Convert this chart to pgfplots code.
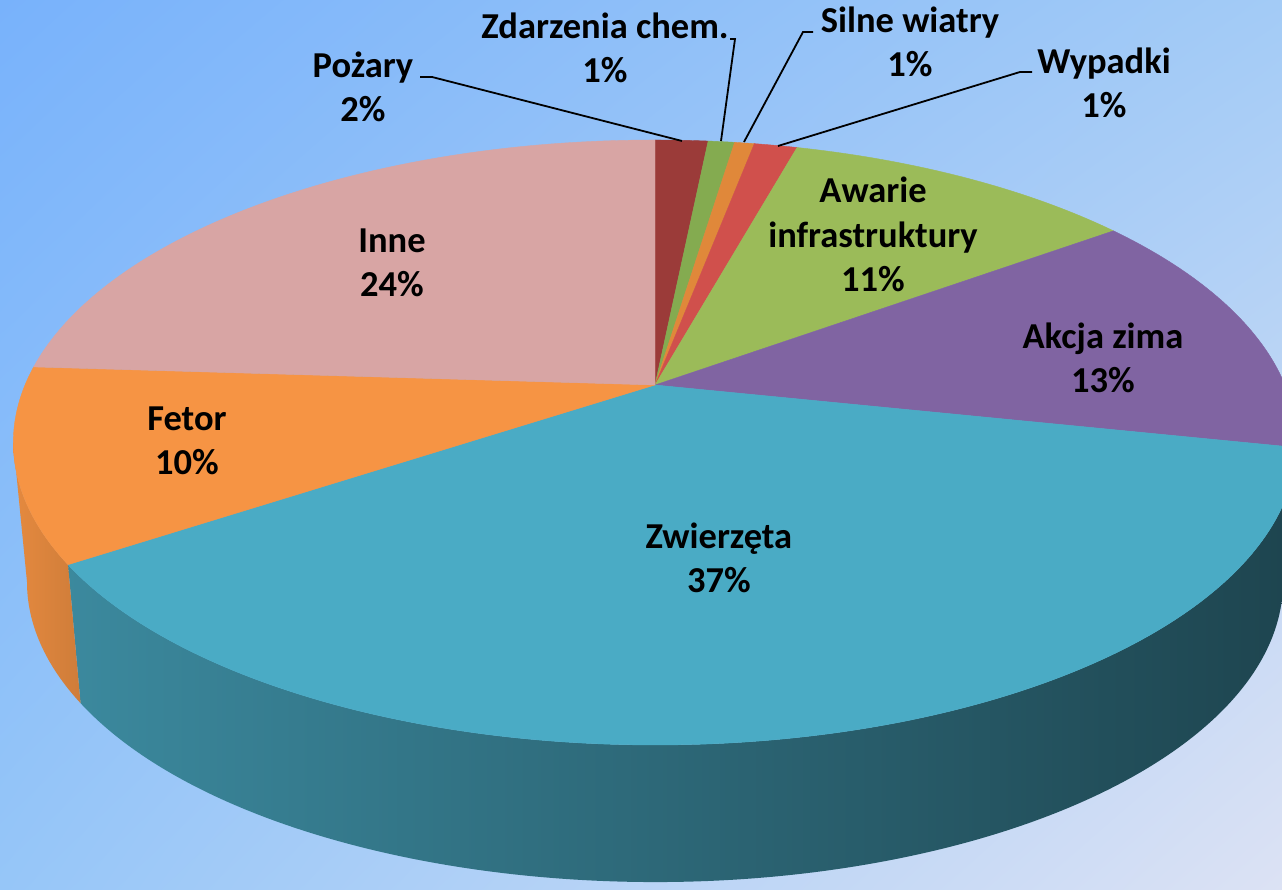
\documentclass[border=0pt]{standalone}
\usepackage{fontspec}
\setmainfont{Carlito}
\usepackage{pgfplots}
\usepackage{pgfplotstable}
\pgfplotsset{compat=1.18}
\usetikzlibrary{shadings}

\definecolor{cPoz}{HTML}{9B3B39}
\definecolor{cZda}{HTML}{84AB50}
\definecolor{cSil}{HTML}{E0883A}
\definecolor{cWyp}{HTML}{D0504C}
\definecolor{cAwa}{HTML}{9BBB59}
\definecolor{cAkc}{HTML}{8064A2}
\definecolor{cZwi}{HTML}{4AABC5}
\definecolor{cFet}{HTML}{F69444}
\definecolor{cInn}{HTML}{D8A5A4}
\definecolor{bgUL}{HTML}{78B2FB}
\definecolor{bgUR}{HTML}{A3CBF6}
\definecolor{bgLL}{HTML}{96C6F8}
\definecolor{bgLR}{HTML}{DCE2F4}

% share in percent, clockwise from 12 o'clock
% sl/sr: how much of the colour is kept on the side (left/right)
% lx, ly: baseline of the last label line (y upwards)
\pgfplotstableread{
name                     value colour sl  sr  lx    ly
Pożary                   1.6   cPoz   70  50  363   768
{Zdarzenia chem.}        0.8   cZda   70  50  605   807
{Silne wiatry}           0.6   cSil   70  50  910   813
Wypadki                  1.3   cWyp   70  50  1104  772
{Awarie\\infrastruktury} 10.7  cAwa   70  50  873   598
{Akcja zima}             13.3  cAkc   60  45  1103  497
Zwierzęta                37.4  cZwi   80  40  719   297
Fetor                    10.3  cFet   93  84  187   415
Inne                     24.0  cInn   70  50  392   593
}\piedata

% perspective pie: apex, top ellipse, bottom ellipse
\def\cx{655}\def\ay{505}
\def\ey{447.5}\def\rx{641.7}\def\ry{302.5}
\def\by{308}\def\brx{628}\def\bry{300}
\def\kk{0.19}

\def\setg#1#2{\expandafter\xdef\csname#1\endcsname{#2}}
\def\getg#1{\csname#1\endcsname}

\begin{document}
\begin{tikzpicture}
\pgfplotstablegetrowsof{\piedata}
\pgfmathtruncatemacro\N{\pgfplotsretval-1}
\def\cum{0}
\pgfplotsforeachungrouped \ii in {0,...,\N}{%
  \pgfplotstablegetelem{\ii}{value}\of\piedata \let\vv\pgfplotsretval
  \pgfplotstablegetelem{\ii}{sl}\of\piedata \let\sidL\pgfplotsretval
  \pgfplotstablegetelem{\ii}{sr}\of\piedata \let\sidR\pgfplotsretval
  \pgfplotstablegetelem{\ii}{colour}\of\piedata
  \colorlet{top\ii}{\pgfplotsretval}
  \colorlet{sideL\ii}{\pgfplotsretval!\sidL!black}
  \colorlet{sideR\ii}{\pgfplotsretval!\sidR!black}
  \pgfplotstablegetelem{\ii}{name}\of\piedata
  \global\expandafter\let\csname nm\ii\endcsname\pgfplotsretval
  \pgfplotstablegetelem{\ii}{lx}\of\piedata \setg{lx\ii}{\pgfplotsretval}
  \pgfplotstablegetelem{\ii}{ly}\of\piedata \setg{ly\ii}{\pgfplotsretval}
  \pgfmathtruncatemacro\pc{round(\vv)}\setg{pc\ii}{\pc}
  % pie angles -> ellipse parameter
  \pgfmathsetmacro\pa{3.6*\cum}
  \pgfmathsetmacro\cum{\cum+\vv}
  \pgfmathsetmacro\pb{3.6*\cum}
  \pgfmathsetmacro\ta{atan2(cos(\pa)+\kk,0.9818*sin(\pa))}
  \pgfmathsetmacro\tb{atan2(cos(\pb)+\kk,0.9818*sin(\pb))}
  \pgfmathsetmacro\tb{\tb>\ta ? \tb-360 : \tb}
  \setg{ta\ii}{\ta}\setg{tb\ii}{\tb}
  \pgfmathsetmacro\tmp{\cx+\rx*cos(\ta)}\setg{tx\ii}{\tmp}
  \pgfmathsetmacro\tmp{\ey+\ry*sin(\ta)}\setg{ty\ii}{\tmp}
  % visible part of the side
  \pgfmathsetmacro\sa{min(\ta,0)}
  \pgfmathsetmacro\sb{max(\tb,-180)}
  \pgfmathtruncatemacro\vis{\sa>\sb+0.01 ? 1 : 0}
  \setg{vis\ii}{\vis}\setg{sa\ii}{\sa}\setg{sb\ii}{\sb}
  \pgfmathsetmacro\tmp{\cx+\rx*cos(\sa)}\setg{sax\ii}{\tmp}
  \pgfmathsetmacro\tmp{\ey+\ry*sin(\sa)}\setg{say\ii}{\tmp}
  \pgfmathsetmacro\tmp{\cx+\brx*cos(\sb)}\setg{sbx\ii}{\tmp}
  \pgfmathsetmacro\tmp{\by+\bry*sin(\sb)}\setg{sby\ii}{\tmp}
}
\begin{axis}[
  hide axis, scale only axis,
  x=1pt, y=1pt,
  xmin=0, xmax=1282, ymin=0, ymax=890,
]
\shade[upper left=bgUL, upper right=bgUR, lower left=bgLL, lower right=bgLR]
  (axis cs:0,0) rectangle (axis cs:1282,890);
% sides
\pgfplotsinvokeforeach{0,...,\N}{%
  \ifnum\getg{vis#1}=1
  \shade[left color=sideL#1, right color=sideR#1]
    (axis cs:\getg{sax#1},\getg{say#1})
    arc[start angle=\getg{sa#1}, end angle=\getg{sb#1}, x radius=\rx, y radius=\ry]
    -- (axis cs:\getg{sbx#1},\getg{sby#1})
    arc[start angle=\getg{sb#1}, end angle=\getg{sa#1}, x radius=\brx, y radius=\bry]
    -- cycle;
  \fi
}
% top face
\pgfplotsinvokeforeach{0,...,\N}{%
  \filldraw[top#1, line width=0.4pt] (axis cs:\cx,\ay)
    -- (axis cs:\getg{tx#1},\getg{ty#1})
    arc[start angle=\getg{ta#1}, end angle=\getg{tb#1}, x radius=\rx, y radius=\ry]
    -- cycle;
}
% leader lines
\addplot[black, line width=1.8pt, no marks] coordinates {(420,813) (432,813) (682,749)};
\addplot[black, line width=1.8pt, no marks] coordinates {(730,851) (735,851) (721,749)};
\addplot[black, line width=1.8pt, no marks] coordinates {(813,858) (803,858) (744,748)};
\addplot[black, line width=1.8pt, no marks] coordinates {(1032,818) (1020,818) (778,744)};
% labels
\pgfplotsinvokeforeach{0,...,\N}{%
  \node[anchor=base, align=center, font=\fontsize{36.5}{44.5}\selectfont\bfseries]
    at (axis cs:\getg{lx#1},\getg{ly#1}) {\getg{nm#1}\\\getg{pc#1}\%};
}
\end{axis}
\pgfresetboundingbox
\path (current axis.south west) rectangle (current axis.north east);
\end{tikzpicture}
\end{document}
